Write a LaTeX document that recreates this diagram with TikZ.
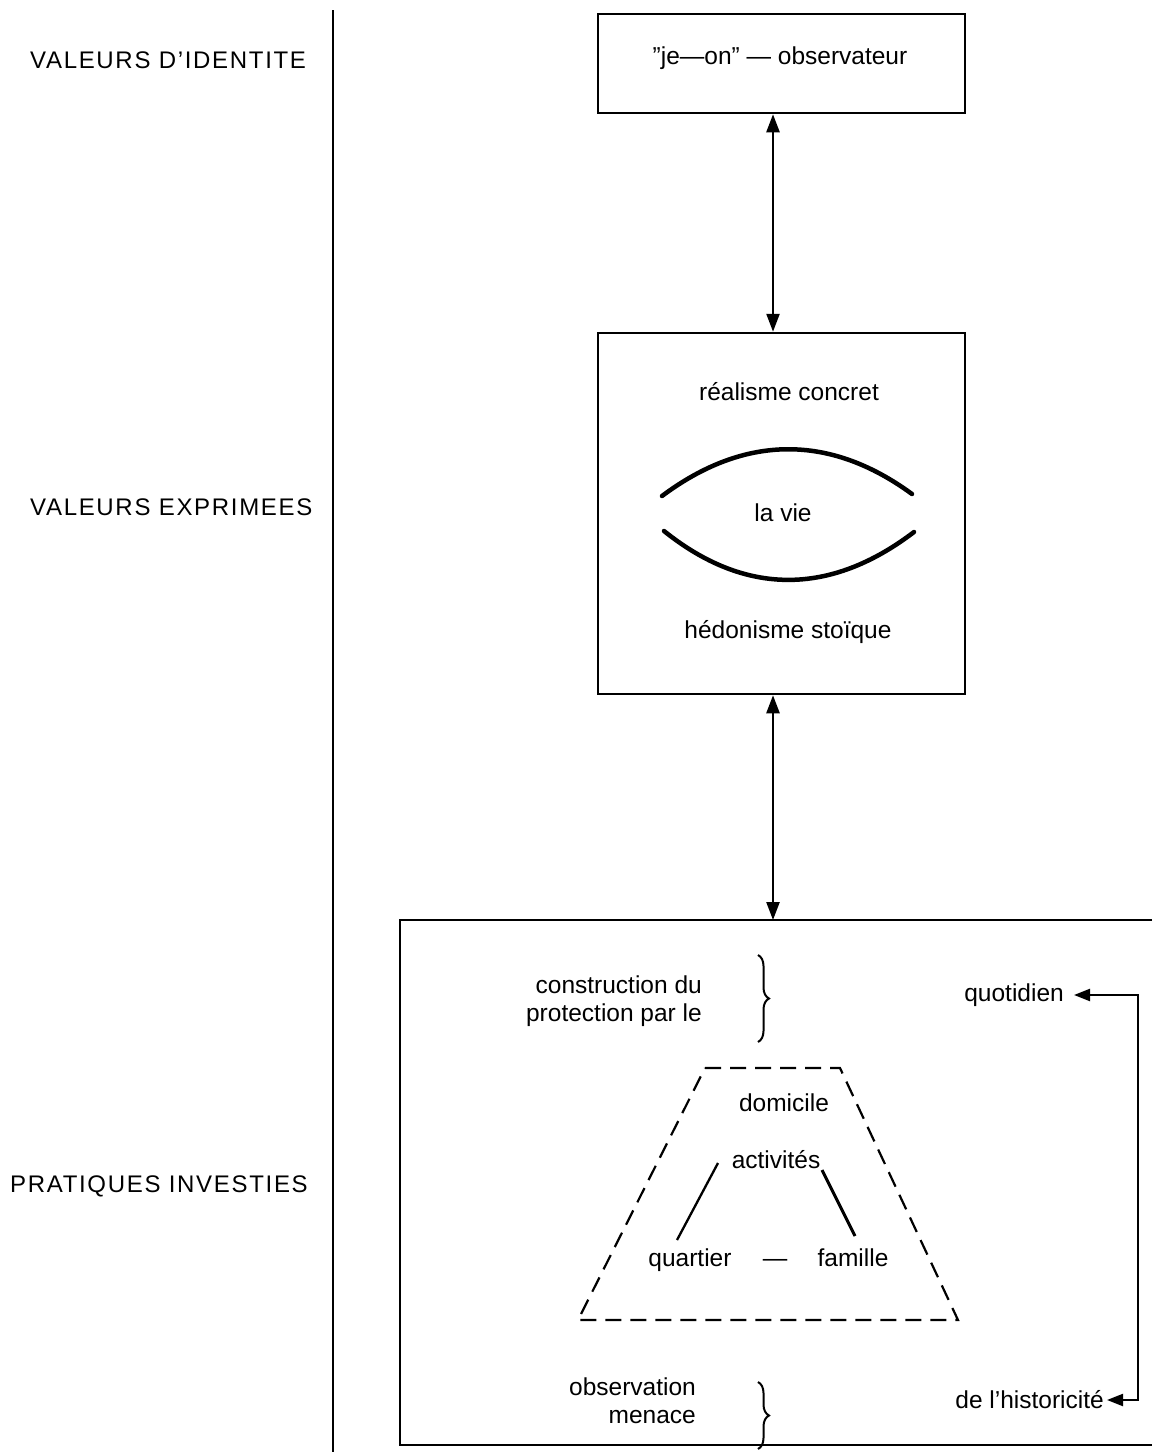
\documentclass[tikz,border=0pt]{standalone}
\usepackage{fontspec}
\setmainfont{Liberation Sans}
\newfontfamily\capsfont[LetterSpace=7]{Liberation Sans}
\usetikzlibrary{arrows.meta,decorations.pathreplacing}
\begin{document}
\begin{tikzpicture}[x=1pt,y=-1pt,
  txt/.style={inner sep=0pt,font=\fontsize{24.5}{28}\selectfont},
  caps/.style={inner sep=0pt,anchor=west,font=\capsfont\fontsize{24}{28}\selectfont},
  frame/.style={draw,line width=2.5pt},
  dbl/.style={line width=2.4pt,{Triangle[width=13pt,length=18pt]}-{Triangle[width=13pt,length=18pt]}},
  lens/.style={line width=4.5pt,line cap=round},
  trap/.style={draw,line width=2.2pt,dash pattern=on 16pt off 9pt},
  brc/.style={line width=2pt,decorate,decoration={brace,amplitude=11pt}}]
\useasboundingbox (0,0) rectangle (1152,1452);
% left column
\coordinate (vtop) at (333,10);
\coordinate (vbot) at (333,1452);
\draw[line width=2.5pt] (vtop) -- (vbot);
\node[caps] (l1) at (30,60) {VALEURS D’IDENTITE};
\node[caps] (l2) at (30,507) {VALEURS EXPRIMEES};
\node[caps] (l3) at (10,1186) {PRATIQUES INVESTIES};
% top box
\node[frame,minimum width=367pt,minimum height=99pt,inner sep=0pt] (b1) at (781.5,63.5) {};
\node[txt] (t1) at (780,58) {”je—on” — observateur};
% middle box
\node[frame,minimum width=367pt,minimum height=361pt,inner sep=0pt] (b2) at (781.5,513.5) {};
\node[txt] (t2) at (789,392) {réalisme concret};
\node[txt] (t3) at (783,513) {la vie};
\node[txt] (t4) at (788,632) {hédonisme stoïque};
\draw[lens] (662,496) .. controls (745,434) and (830,434) .. (912,494);
\draw[lens] (664,531) .. controls (745,596) and (830,596) .. (914,532);
% arrows between boxes
\draw[dbl] (b1.south -| 773,0) -- (b2.north -| 773,0);
% bottom box
\coordinate (b3tr) at (1152,920);
\coordinate (b3tl) at (400,920);
\coordinate (b3bl) at (400,1445);
\coordinate (b3br) at (1152,1445);
\draw[line width=2.5pt] (b3tr) -- (b3tl) -- (b3bl) -- (b3br);
\draw[dbl] (b2.south -| 773,0) -- (b3tl -| 773,0);
% braces and labels
\node[txt,align=right,anchor=east] (c1) at (702,1001) {construction du\\protection par le};
\draw[brc] (758,955) -- (758,1042);
\node[txt,align=right,anchor=east] (c2) at (696,1401) {observation\\menace};
\draw[brc] (758,1382) -- (758,1449);
% trapezoid
\draw[trap] (705,1068) -- (840,1068) -- (958,1320) -- (578,1320) -- cycle;
\node[txt,anchor=base] (d1) at (784,1111) {domicile};
\node[txt,anchor=base] (d2) at (776,1168) {activités};
\node[txt,anchor=base] (d3) at (690,1266) {quartier};
\node[txt,anchor=base] (d4) at (775,1266) {—};
\node[txt,anchor=base] (d5) at (853,1266) {famille};
\draw[line width=2.3pt] (718,1163) -- (677,1240);
\draw[line width=3pt] (822,1170) -- (855,1236);
% right connector
\node[txt,anchor=east] (q) at (1064,995) {quotidien};
\node[txt,anchor=east] (h) at (1104,1400) {de l’historicité};
\coordinate (k1) at (1138,995);
\coordinate (k2) at (1138,1400);
\draw[line width=2.2pt,{Triangle[width=12pt,length=16pt]}-{Triangle[width=12pt,length=16pt]}] ([xshift=10pt]q.east) -- (k1) -- (k2) -- ([xshift=3pt]h.east);
\end{tikzpicture}
\end{document}
